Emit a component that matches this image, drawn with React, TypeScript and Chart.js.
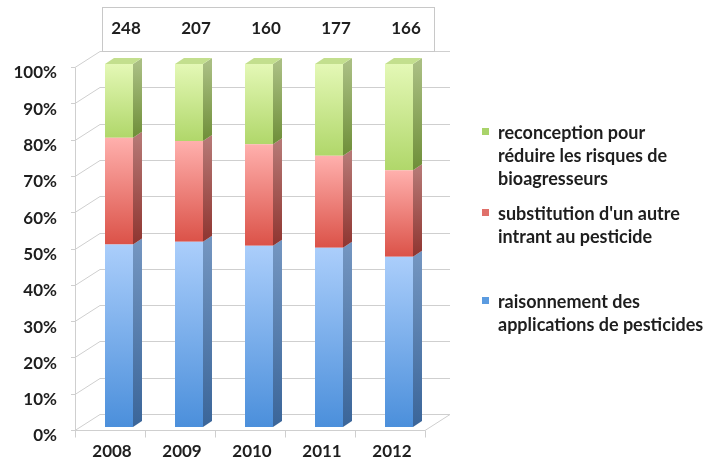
import React, { useEffect, useRef } from "react";
import { Chart, registerables } from "chart.js";

Chart.register(...registerables);

// ---- data ----
const years = ["2008", "2009", "2010", "2011", "2012"];
const totals = [248, 207, 160, 177, 166];
const raisonnement = [50.3, 51.0, 49.9, 49.4, 46.9];
const substitution = [29.4, 27.8, 28.0, 25.3, 23.8];
const reconception = [20.3, 21.2, 22.1, 25.3, 29.3];
const yTickStep = 10;

const seriesLabels = [
  "raisonnement des applications de pesticides",
  "substitution d'un autre intrant au pesticide",
  "reconception pour réduire les risques de bioagresseurs",
];
const legendLines = [
  ["reconception pour", "réduire les risques de", "bioagresseurs"],
  ["substitution d'un autre", "intrant au pesticide"],
  ["raisonnement des", "applications de pesticides"],
];

const seriesData = [raisonnement, substitution, reconception];

const styles = [
  { frontTop: "#abcefb", frontBot: "#4b8fdb", sideTop: "#7395c0", sideBot: "#3a6599", top: "#9fc2ee", legend: "#5b9be0" },
  { frontTop: "#ffb0ad", frontBot: "#db5248", sideTop: "#b57774", sideBot: "#8f3530", top: "#f2a3a0", legend: "#e0706a" },
  { frontTop: "#e4f8b6", frontBot: "#b0d76a", sideTop: "#a9be82", sideBot: "#6e8e38", top: "#c3df8e", legend: "#a9d36a" },
];

const FONT = "Lato, 'Open Sans', sans-serif";

const FRONT = { dx: -9, dy: 3 };
const BACK = { dx: 16, dy: -13 };
const DEPTH = { dx: 9, dy: -6 };

const threeD = {
  id: "threeD",
  beforeDatasetsDraw(chart: any) {
    const { ctx, chartArea: ca, scales } = chart;
    const y = scales.y;
    const x = scales.x;
    ctx.save();
    ctx.lineWidth = 1;
    ctx.strokeStyle = "#cfcfcf";
    const fl = ca.left + FRONT.dx, fr = ca.right + FRONT.dx;
    const bl = ca.left + BACK.dx, br = ca.right + BACK.dx;
    const ticks = y.ticks.map((t: any) => t.value);
    ticks.forEach((v: number) => {
      const py = y.getPixelForValue(v);
      const by = Math.round(py + BACK.dy) + 0.5;
      const fy = Math.round(py + FRONT.dy) + 0.5;
      ctx.beginPath();
      ctx.moveTo(bl, by);
      ctx.lineTo(br, by);
      ctx.stroke();
      ctx.beginPath();
      ctx.moveTo(fl, fy);
      ctx.lineTo(bl, by);
      ctx.stroke();
      ctx.beginPath();
      ctx.moveTo(fl - 4, fy);
      ctx.lineTo(fl, fy);
      ctx.stroke();
    });
    const f0 = Math.round(y.getPixelForValue(0) + FRONT.dy) + 0.5;
    const f100 = Math.round(y.getPixelForValue(100) + FRONT.dy) + 0.5;
    const b0 = Math.round(y.getPixelForValue(0) + BACK.dy) + 0.5;
    ctx.beginPath();
    ctx.moveTo(Math.round(fl) + 0.5, f0);
    ctx.lineTo(Math.round(fl) + 0.5, f100);
    ctx.stroke();
    ctx.beginPath();
    ctx.moveTo(fl, f0);
    ctx.lineTo(fr, f0);
    ctx.lineTo(br, b0);
    ctx.stroke();
    const n = years.length;
    const step = (fr - fl) / n;
    for (let i = 0; i <= n; i++) {
      const px = Math.round(fl + i * step) + 0.5;
      ctx.beginPath();
      ctx.moveTo(px, f0);
      ctx.lineTo(px, f0 + 7);
      ctx.stroke();
    }
    const boxTop = 7.5;
    const boxBottom = Math.round(y.getPixelForValue(100) + BACK.dy) + 0.5;
    const boxLeft = Math.round(ca.left + 18) + 0.5;
    const boxRight = Math.round(ca.right) + 0.5;
    ctx.fillStyle = "#ffffff";
    ctx.fillRect(boxLeft, boxTop, boxRight - boxLeft, boxBottom - boxTop);
    ctx.strokeStyle = "#c8c8c8";
    ctx.strokeRect(boxLeft, boxTop, boxRight - boxLeft, boxBottom - boxTop);
    ctx.fillStyle = "#1e1e1e";
    ctx.font = `bold 17px ${FONT}`;
    ctx.textAlign = "center";
    ctx.textBaseline = "middle";
    totals.forEach((t, i) => {
      ctx.fillText(String(t), x.getPixelForValue(i) + 7, 29);
    });
    ctx.restore();
  },
  afterDatasetsDraw(chart: any) {
    const { ctx } = chart;
    ctx.save();
    const last = chart.data.datasets.length - 1;
    chart.data.datasets.forEach((_: any, d: number) => {
      const meta = chart.getDatasetMeta(d);
      const st = styles[d];
      meta.data.forEach((bar: any) => {
        const { x, y, base, width } = bar.getProps(["x", "y", "base", "width"], true);
        const xl = x - width / 2;
        const xr = x + width / 2;
        const g = ctx.createLinearGradient(0, y, 0, base);
        g.addColorStop(0, st.sideTop);
        g.addColorStop(1, st.sideBot);
        ctx.fillStyle = g;
        ctx.beginPath();
        ctx.moveTo(xr, y);
        ctx.lineTo(xr + DEPTH.dx, y + DEPTH.dy);
        ctx.lineTo(xr + DEPTH.dx, base + DEPTH.dy);
        ctx.lineTo(xr, base);
        ctx.closePath();
        ctx.fill();
        if (d === last) {
          ctx.fillStyle = st.top;
          ctx.beginPath();
          ctx.moveTo(xl, y);
          ctx.lineTo(xl + DEPTH.dx, y + DEPTH.dy);
          ctx.lineTo(xr + DEPTH.dx, y + DEPTH.dy);
          ctx.lineTo(xr, y);
          ctx.closePath();
          ctx.fill();
        }
      });
    });
    ctx.restore();
  },
};

function frontFill(d: number) {
  return (c: any) => {
    const st = styles[d];
    const chart = c.chart;
    if (c.type !== "data" || !chart.chartArea || !chart.scales.y) return st.frontBot;
    const i = c.dataIndex;
    let lo = 0;
    for (let k = 0; k < d; k++) lo += seriesData[k][i];
    const hi = lo + seriesData[d][i];
    const ys = chart.scales.y;
    const g = chart.ctx.createLinearGradient(0, ys.getPixelForValue(hi), 0, ys.getPixelForValue(lo));
    g.addColorStop(0, st.frontTop);
    g.addColorStop(1, st.frontBot);
    return g;
  };
}

export default function App() {
  const canvasRef = useRef<HTMLCanvasElement | null>(null);

  useEffect(() => {
    if (!canvasRef.current) return;
    const chart = new Chart(canvasRef.current, {
      type: "bar",
      data: {
        labels: years,
        datasets: seriesData.map((data, d) => ({
          label: seriesLabels[d],
          data,
          backgroundColor: frontFill(d),
          borderWidth: 0,
          categoryPercentage: 1,
          barPercentage: 0.4,
        })),
      },
      options: {
        responsive: false,
        animation: false,
        events: [],
        layout: { padding: { left: 8, right: 281, top: 64, bottom: 10 } },
        plugins: {
          legend: { display: false },
          tooltip: { enabled: false },
          title: { display: false },
        },
        scales: {
          x: {
            stacked: true,
            grid: { display: false, drawTicks: false },
            border: { display: false },
            ticks: {
              color: "#1e1e1e",
              font: { family: FONT, size: 17, weight: "bold" },
              padding: 14,
              labelOffset: -7,
            },
            afterFit: (s: any) => {
              s.height = 31;
            },
          },
          y: {
            stacked: true,
            min: 0,
            max: 100,
            grid: { display: false, drawTicks: false },
            border: { display: false },
            ticks: {
              stepSize: yTickStep,
              color: "#1e1e1e",
              font: { family: FONT, size: 17, weight: "bold" },
              padding: 27,
              labelOffset: 9,
              callback: (v: any) => `${v}%`,
            },
            afterFit: (s: any) => {
              s.width = 76;
            },
          },
        },
      },
      plugins: [threeD],
    });
    return () => chart.destroy();
  }, []);

  const legendTops = [121, 202, 290];
  const squareTops = [128, 209, 297];
  const legendOrder = [2, 1, 0];

  return (
    <div style={{ position: "fixed", left: 0, top: 0, width: 715, height: 468, background: "#ffffff" }}>
      <canvas ref={canvasRef} width={715} height={468} style={{ position: "absolute", left: 0, top: 0, width: 715, height: 468 }} />
      {legendLines.map((lines, k) => (
        <React.Fragment key={k}>
          <div
            style={{
              position: "absolute",
              left: 482,
              top: squareTops[k],
              width: 7,
              height: 7,
              background: styles[legendOrder[k]].legend,
            }}
          />
          <div
            style={{
              position: "absolute",
              left: 498,
              top: legendTops[k],
              fontFamily: FONT,
              fontWeight: "bold",
              fontSize: 18,
              lineHeight: "23px",
              color: "#1e1e1e",
              whiteSpace: "nowrap",
            }}
          >
            {lines.map((l, j) => (
              <div key={j}>{l}</div>
            ))}
          </div>
        </React.Fragment>
      ))}
    </div>
  );
}
